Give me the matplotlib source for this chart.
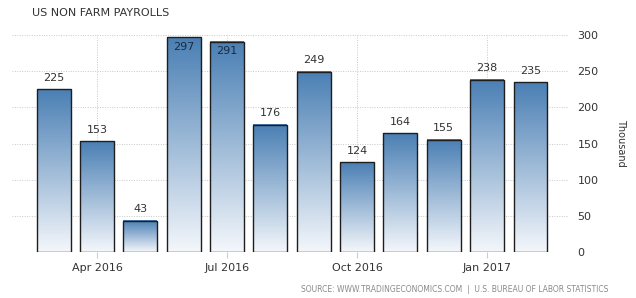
import numpy as np
import matplotlib
matplotlib.use("Agg")
import matplotlib.pyplot as plt
from matplotlib.colors import LinearSegmentedColormap
from matplotlib.patches import Rectangle

months = ["Mar 2016", "Apr 2016", "May 2016", "Jun 2016", "Jul 2016", "Aug 2016",
          "Sep 2016", "Oct 2016", "Nov 2016", "Dec 2016", "Jan 2017", "Feb 2017"]
payrolls = [225, 153, 43, 297, 291, 176, 249, 124, 164, 155, 238, 235]
tick_idx = [1, 4, 7, 10]
tick_labels = ["Apr 2016", "Jul 2016", "Oct 2016", "Jan 2017"]
y_ticks = [0, 50, 100, 150, 200, 250, 300]

fig = plt.figure(figsize=(6.36, 2.98), dpi=100)
ax = fig.add_axes([12/636, 46/298, 557/636, 217/298])

cmap = LinearSegmentedColormap.from_list("tegrad", ["#f4f7fb", "#4a7fb4"])
grad = np.linspace(0, 1, 256).reshape(-1, 1)
w = 0.78
x = np.arange(len(payrolls))

for xi, v in zip(x, payrolls):
    ax.imshow(grad, extent=[xi - w/2, xi + w/2, 0, v], origin="lower",
              aspect="auto", cmap=cmap, zorder=2)
    ax.add_patch(Rectangle((xi - w/2, 0), w, v, fill=False,
                           edgecolor="#1e1e1e", linewidth=1.0, zorder=3))
    if v > 280:
        ax.text(xi, v - 6, str(v), ha="center", va="top", fontsize=8,
                color="#1a2a40", zorder=4)
    else:
        ax.text(xi, v + 9, str(v), ha="center", va="bottom", fontsize=8,
                color="#333333", zorder=4)

ax.set_xlim(-0.96, 11.89)
ax.set_ylim(0, 300)
ax.set_xticks(tick_idx)
ax.set_xticklabels(tick_labels, fontsize=8, color="#333333")
ax.yaxis.tick_right()
ax.set_yticks(y_ticks)
ax.set_yticklabels([str(t) for t in y_ticks], fontsize=8, color="#333333")
ax.tick_params(axis="y", length=0, pad=6)
ax.tick_params(axis="x", length=4, color="#cccccc", pad=4)
ax.grid(True, linestyle=(0, (1, 1.5)), color="#c8c8c8", linewidth=0.7, zorder=0)
ax.set_axisbelow(True)
for s in ax.spines.values():
    s.set_visible(False)

fig.text(621/636, 1 - 143/298, "Thousand", fontsize=7, color="#333333",
         rotation=270, ha="center", va="center")

fig.text(32/636, 1 - 13/298, "US NON FARM PAYROLLS", fontsize=8, color="#333333",
         va="center", ha="left")
fig.text(608/636, 1 - 289/298,
         "SOURCE: WWW.TRADINGECONOMICS.COM  |  U.S. BUREAU OF LABOR STATISTICS",
         fontsize=5.5, color="#8a8a8a", va="center", ha="right")

fig.savefig("out.png", dpi=100)
